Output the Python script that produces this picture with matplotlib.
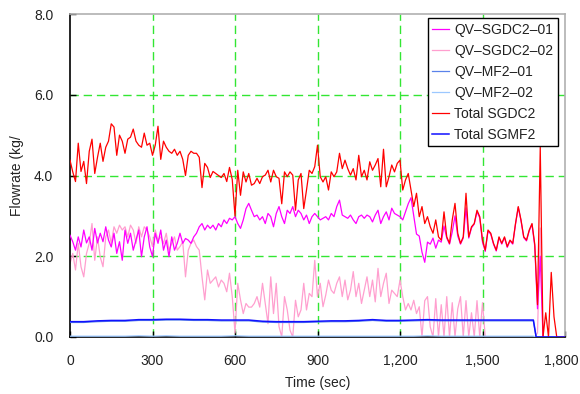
import matplotlib
matplotlib.use("Agg")
import matplotlib.pyplot as plt
from matplotlib.ticker import FuncFormatter
from matplotlib.transforms import ScaledTranslation

# ---- data (10 s sampling for the SGDC2 channels) ----
time_s = list(range(0, 1801, 10))

total_sgdc2 = [
    4.38, 4.09, 3.85, 4.80, 4.10, 4.35, 3.80, 4.60, 4.90, 4.05,
    4.45, 4.80, 4.35, 4.70, 4.85, 5.28, 5.20, 4.50, 5.00, 4.85,
    4.55, 4.90, 4.95, 5.15, 4.85, 4.75, 4.70, 5.05, 4.75, 4.80,
    4.50, 4.75, 5.22, 4.40, 4.85, 4.70, 4.60, 4.55, 4.65, 4.50,
    4.60, 4.40, 4.00, 4.50, 4.60, 4.55, 4.55, 4.45, 3.70, 4.30,
    4.20, 3.95, 4.10, 4.05, 4.00, 3.95, 4.05, 3.85, 4.20, 3.90,
    3.00, 4.13, 3.51, 4.09, 3.84, 4.05, 3.76, 3.80, 3.93, 3.80,
    3.97, 4.01, 4.13, 3.84, 4.13, 3.97, 3.93, 3.30, 4.09, 3.97,
    4.09, 4.01, 3.14, 3.89, 4.05, 3.18, 3.64, 4.13, 4.05, 4.22,
    4.75, 3.97, 3.84, 3.97, 3.64, 4.09, 3.97, 4.09, 4.55, 4.17,
    4.38, 4.17, 4.01, 4.17, 3.89, 4.50, 3.97, 4.13, 3.89, 4.34,
    4.13, 4.26, 4.42, 3.72, 4.65, 3.72, 3.97, 4.26, 4.09, 4.30,
    4.38, 3.64, 3.89, 4.05, 3.64, 3.23, 3.56, 2.98, 3.23, 2.81,
    2.98, 2.73, 2.57, 2.90, 2.48, 2.40, 3.10, 2.48, 2.32, 2.90,
    3.31, 2.57, 2.32, 2.48, 3.56, 2.48, 2.73, 2.81, 3.14, 2.98,
    2.40, 2.15, 2.65, 2.57, 2.32, 2.15, 2.48, 2.32, 2.48, 2.24,
    2.40, 2.32, 2.81, 3.23, 2.90, 2.48, 2.40, 2.65, 2.81, 2.30,
    0.80, 4.70, 0.00, 0.60, 0.00, 1.60, 0.50, 0.00, 0.00, 0.00,
    0.00,
]

qv_sgdc2_01 = [
    2.52, 2.36, 2.15, 2.48, 2.23, 2.65, 2.33, 2.48, 2.15, 2.69,
    2.33, 2.57, 2.36, 2.73, 2.40, 2.23, 2.57, 2.07, 2.36, 1.90,
    2.65, 2.32, 2.57, 2.15, 2.40, 2.65, 1.99, 2.48, 2.73, 2.23,
    1.99, 2.57, 2.32, 2.65, 2.15, 2.40, 1.99, 2.48, 2.15, 2.32,
    2.57, 2.32, 2.44, 2.40, 2.32, 2.48, 2.57, 2.73, 2.81, 2.65,
    2.77, 2.69, 2.77, 2.65, 2.81, 2.73, 2.90, 2.81, 2.94, 2.90,
    2.98, 2.81, 2.69, 2.90, 3.18, 3.31, 3.14, 2.98, 3.02, 2.90,
    2.98, 2.81, 3.06, 2.98, 2.73, 3.06, 3.23, 2.98, 2.81, 3.14,
    3.06, 3.23, 2.98, 3.14, 3.06, 2.90, 3.02, 2.81, 2.98, 3.06,
    2.98, 2.90, 2.94, 2.98, 2.90, 3.06, 2.98, 3.23, 3.39, 3.02,
    2.98, 2.94, 3.02, 2.90, 2.81, 2.98, 3.02, 2.94, 3.02, 2.98,
    2.85, 3.02, 3.14, 2.81, 2.98, 3.10, 2.90, 3.19, 3.06, 3.02,
    2.98, 2.90, 3.10, 3.30, 3.45, 3.00, 2.55, 2.50, 2.10, 1.85,
    2.35, 2.30, 2.45, 2.20, 2.40, 2.35, 2.75, 2.45, 2.30, 2.60,
    3.00, 2.50, 2.30, 2.45, 3.20, 2.45, 2.70, 2.80, 3.10, 2.95,
    2.35, 2.12, 2.62, 2.55, 2.30, 2.13, 2.46, 2.30, 2.46, 2.22,
    2.38, 2.30, 2.79, 3.21, 2.88, 2.46, 2.38, 2.63, 2.79, 2.25,
    0.70, 2.00, 0.00, 0.00, 0.00, 0.00, 0.00, 0.00, 0.00, 0.00,
    0.00,
]

qv_sgdc2_02 = [
    1.82, 2.07, 1.66, 2.32, 1.74, 1.49, 2.07, 2.32, 2.81, 1.90,
    2.48, 1.98, 1.74, 2.48, 2.65, 2.32, 2.73, 2.57, 2.77, 2.65,
    2.73, 2.48, 2.77, 2.65, 2.32, 2.73, 2.48, 2.73, 2.65, 2.48,
    2.24, 2.65, 2.40, 2.48, 2.32, 2.57, 2.15, 2.32, 2.48, 2.15,
    2.24, 2.36, 1.49, 2.15, 2.32, 2.40, 2.24, 2.15, 1.49, 0.92,
    1.66, 1.33, 1.41, 1.49, 1.24, 1.41, 1.33, 1.12, 1.58, 1.00,
    0.10, 1.33, 0.92, 0.58, 0.83, 0.74, 0.74, 0.83, 1.00, 0.74,
    1.33, 0.83, 0.33, 1.49, 0.58, 1.33, 0.26, 0.00, 1.00, 0.67,
    0.17, 0.00, 0.91, 0.50, 0.67, 1.33, 0.67, 1.08, 1.00, 1.90,
    1.00, 1.33, 0.75, 1.04, 1.41, 1.16, 1.08, 1.33, 1.49, 1.00,
    1.41, 0.92, 1.16, 1.62, 1.00, 1.33, 0.83, 1.16, 1.49, 1.00,
    1.41, 0.87, 1.70, 1.00, 1.33, 1.58, 0.83, 1.16, 1.08, 1.00,
    1.41, 1.00, 0.67, 0.83, 0.67, 0.91, 0.58, 0.75, 0.00, 0.90,
    1.00, 0.25, 0.00, 0.95, 0.00, 0.80, 0.00, 1.00, 0.00, 0.85,
    0.00, 0.70, 1.00, 0.00, 0.90, 0.00, 0.60, 0.00, 0.90, 0.00,
    0.85, 0.00, 0.00, 0.00, 0.00, 0.00, 0.00, 0.00, 0.00, 0.00,
    0.00, 0.00, 0.00, 0.00, 0.00, 0.00, 0.00, 0.00, 0.00, 0.00,
    0.10, 2.70, 0.00, 0.00, 0.00, 0.00, 0.00, 0.00, 0.00, 0.00,
    0.00,
]

# MF2 channels (coarser sampling)
time_mf = [0, 50, 100, 150, 200, 250, 300, 350, 400, 450, 500, 550, 600, 650,
           700, 750, 800, 850, 900, 950, 1000, 1050, 1100, 1150, 1200, 1250,
           1300, 1350, 1400, 1450, 1500, 1550, 1600, 1650, 1685, 1695, 1800]
total_sgmf2 = [0.38, 0.38, 0.40, 0.41, 0.41, 0.43, 0.43, 0.44, 0.44, 0.43,
               0.43, 0.42, 0.42, 0.42, 0.39, 0.38, 0.38, 0.38, 0.39, 0.40,
               0.40, 0.41, 0.43, 0.41, 0.41, 0.42, 0.43, 0.42, 0.42, 0.42,
               0.42, 0.42, 0.42, 0.42, 0.42, 0.00, 0.00]
qv_mf2_01 = [0.36, 0.36, 0.38, 0.39, 0.39, 0.41, 0.41, 0.42, 0.42, 0.41,
             0.41, 0.40, 0.40, 0.40, 0.37, 0.36, 0.36, 0.36, 0.37, 0.38,
             0.38, 0.39, 0.41, 0.39, 0.39, 0.40, 0.41, 0.40, 0.40, 0.40,
             0.40, 0.40, 0.40, 0.40, 0.40, 0.00, 0.00]
qv_mf2_02 = [0.02, 0.02, 0.02, 0.02, 0.02, 0.03, 0.02, 0.03, 0.02, 0.02,
             0.02, 0.02, 0.03, 0.02, 0.02, 0.02, 0.02, 0.02, 0.02, 0.02,
             0.02, 0.02, 0.02, 0.02, 0.02, 0.02, 0.03, 0.02, 0.02, 0.02,
             0.02, 0.02, 0.02, 0.02, 0.02, 0.00, 0.00]

x_ticks = [0, 300, 600, 900, 1200, 1500, 1800]
y_ticks = [0.0, 2.0, 4.0, 6.0, 8.0]

# ---- figure ----
plt.rcParams['font.family'] = ['Liberation Sans', 'DejaVu Sans']
fig = plt.figure(figsize=(5.8, 3.94), dpi=100)
ax = fig.add_axes([70 / 580, 1 - 337 / 394, 495 / 580, 323 / 394])

grid_kw = dict(color='#33e633', lw=1.0, ls=(0, (6, 3.5)), zorder=0)
for xv in x_ticks[1:-1]:
    ax.axvline(xv, **grid_kw)
for yv in y_ticks[1:-1]:
    ax.axhline(yv, **grid_kw)

lw = 0.9
ax.plot(time_s, qv_sgdc2_01, color='#ff00ff', lw=lw, label='QV\u2013SGDC2\u201301', zorder=3)
ax.plot(time_s, qv_sgdc2_02, color='#ff9fcf', lw=lw, label='QV\u2013SGDC2\u201302', zorder=2)
ax.plot(time_mf, qv_mf2_01, color='#5a82ea', lw=lw, label='QV\u2013MF2\u201301', zorder=3)
ax.plot(time_mf, qv_mf2_02, color='#9cc8ff', lw=lw, label='QV\u2013MF2\u201302', zorder=3)
ax.plot(time_s, total_sgdc2, color='#ff0000', lw=lw, label='Total SGDC2', zorder=4)
ax.plot(time_mf, total_sgmf2, color='#1010ff', lw=lw + 0.2, label='Total SGMF2', zorder=5)

ax.set_xlim(0, 1800)
ax.set_ylim(0, 8)
ax.set_xticks(x_ticks)
ax.set_yticks(y_ticks)
ax.xaxis.set_major_formatter(FuncFormatter(lambda v, p: f"{int(v):,}"))
ax.yaxis.set_major_formatter(FuncFormatter(lambda v, p: f"{v:.1f}"))
ax.tick_params(direction='in', length=4, width=1, colors='black',
               labelsize=10, pad=12, labelcolor='#222222')

# keep the last x label inside the canvas
fig.canvas.draw()
last = ax.get_xticklabels()[-1]
last.set_transform(last.get_transform() + ScaledTranslation(-4 / 100, 0, fig.dpi_scale_trans))

for side in ('left', 'bottom'):
    ax.spines[side].set_color('black')
    ax.spines[side].set_linewidth(1.2)
for side in ('top', 'right'):
    ax.spines[side].set_color('#b0b0b0')
    ax.spines[side].set_linewidth(1.2)

ax.set_xlabel('Time (sec)', fontsize=10, color='#222222', labelpad=6)
ax.set_ylabel('Flowrate (kg/', fontsize=10, color='#222222', labelpad=7)

leg = ax.legend(loc='upper right', bbox_to_anchor=(558 / 580, 1 - 18 / 394),
                bbox_transform=fig.transFigure, borderaxespad=0,
                fontsize=10, frameon=True, fancybox=False, framealpha=1,
                edgecolor='black', handlelength=1.2, handletextpad=0.35,
                labelspacing=0.5, borderpad=0.35)
leg.get_frame().set_linewidth(1.0)
for t in leg.get_texts():
    t.set_color('#222222')

fig.savefig('out.png', dpi=100)
